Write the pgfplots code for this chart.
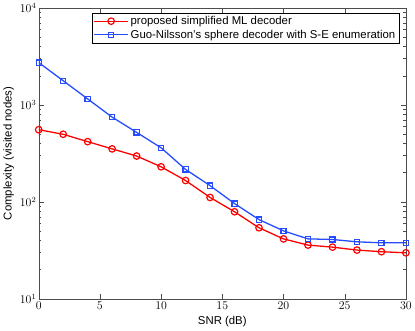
\documentclass[border=0pt]{standalone}
\usepackage{pgfplots}
\pgfplotsset{compat=1.18}
\usepackage{fontspec}
\setmainfont{Liberation Sans}
\definecolor{mblue}{rgb}{0.15,0.3,1}
\definecolor{axgray}{gray}{0.3}

\begin{document}
\begin{tikzpicture}
\begin{axis}[
    scale only axis,
    width=370bp, height=293bp,
    ymode=log,
    xmin=0, xmax=30,
    ymin=10, ymax=10000,
    xtick={0,5,...,30},
    ytick={10,100,1000,10000},
    tick align=inside,
    axis line style={axgray},
    every tick/.style={axgray},
    major tick length=5pt,
    minor tick length=2.5pt,
    tick label style={font=\fontsize{11.5}{13}\selectfont},
    label style={font=\fontsize{11.5}{13}\selectfont},
    xlabel={SNR (dB)},
    ylabel={Complexity (visited nodes)},
    xlabel style={at={(axis description cs:0.5,-0.078)}, anchor=center},
    ylabel style={at={(axis description cs:-0.082,0.5)}, anchor=center},
    yticklabel style={xshift=1pt},
    legend style={at={(0.981,0.984)}, anchor=north east,
        font=\fontsize{11.5}{13}\selectfont, draw=black,
        inner sep=1.5pt, row sep=0pt},
    legend cell align=left,
    legend image code/.code={
        \draw[mark repeat=2,mark phase=2]
        plot coordinates {(0cm,0cm) (0.6cm,0cm) (1.2cm,0cm)};},
]
\addplot[color=red, line width=1.3pt, mark=o, mark size=3.3pt,
    mark options={line width=1.2pt}] coordinates {
    (0,555) (2,498) (4,418) (6,352) (8,297) (10,230) (12,166) (14,111)
    (16,79) (18,54) (20,41.5) (22,35.8) (24,34.1) (26,31.8) (28,30.6) (30,29.8)
};
\addlegendentry{proposed simplified ML decoder}
\addplot[color=mblue, line width=1.3pt, mark=square, mark size=2.6pt,
    mark options={line width=1.2pt}] coordinates {
    (0,2735) (2,1778) (4,1153) (6,748) (8,521) (10,361) (12,216) (14,147)
    (16,96) (18,65.6) (20,50.2) (22,41.5) (24,40.9) (26,38.7) (28,37.8) (30,37.8)
};
\addlegendentry{Guo-Nilsson's sphere decoder with S-E enumeration}
\end{axis}
\end{tikzpicture}
\end{document}
